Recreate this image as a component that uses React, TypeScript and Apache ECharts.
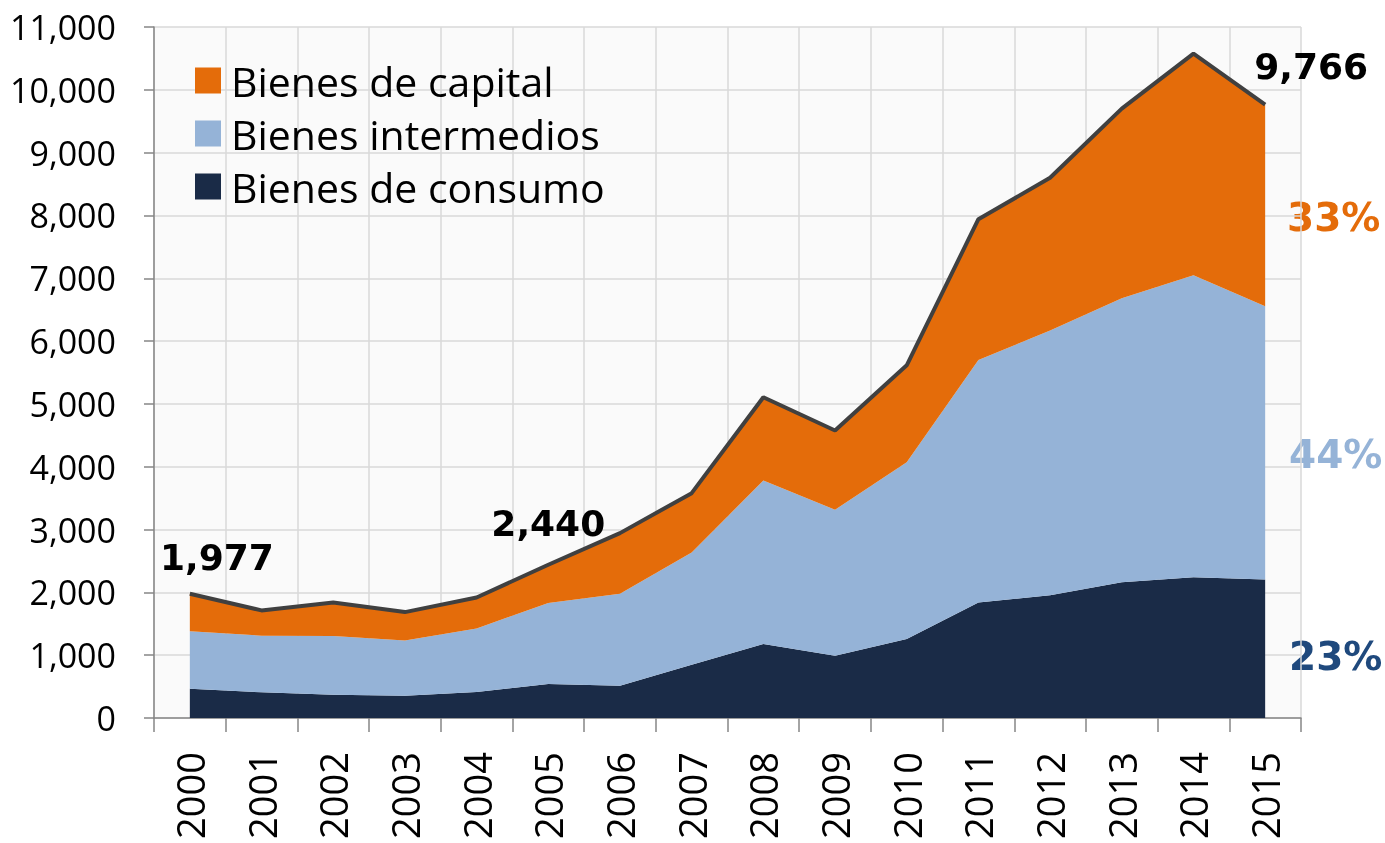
import React, { useEffect, useRef } from "react";
import * as echarts from "echarts";

const years = ["2000","2001","2002","2003","2004","2005","2006","2007","2008","2009","2010","2011","2012","2013","2014","2015"];
const consumo = [467, 408, 371, 355, 414, 541, 514, 848, 1177, 992, 1257, 1840, 1955, 2161, 2239, 2203];
const intermedios = [912, 902, 933, 880, 1012, 1288, 1464, 1787, 2603, 2322, 2813, 3860, 4215, 4520, 4811, 4350];
const capital = [598, 403, 536, 451, 493, 611, 965, 944, 1326, 1262, 1545, 2240, 2430, 3020, 3526, 3213];
const seriesNames = ["Bienes de consumo", "Bienes intermedios", "Bienes de capital"];
const labeledYears = ["2000", "2005", "2015"];
const shareLabels = ["23%", "44%", "33%"];

const COLORS = { consumo: "#1A2B47", intermedios: "#95B3D7", capital: "#E46C0A", total: "#404040" };

export default function App() {
  const ref = useRef<HTMLDivElement>(null);
  useEffect(() => {
    if (!ref.current) return;
    const chart = echarts.init(ref.current, undefined, { renderer: "svg" });
    const totals = years.map((_, i) => consumo[i] + intermedios[i] + capital[i]);
    const labelOffsets: Record<string, number[]> = { "2000": [27, -13], "2005": [0, -18], "2015": [46, -15] };
    const totalData = totals.map((v, i) => {
      const y = years[i];
      if (labeledYears.includes(y)) {
        return { value: v, label: { show: true, position: "top", offset: labelOffsets[y] } };
      }
      return { value: v };
    });
    const areaSeries = (name: string, data: number[], color: string) => ({
      name,
      type: "line",
      stack: "total",
      data,
      symbol: "none",
      lineStyle: { width: 0 },
      itemStyle: { color },
      areaStyle: { color, opacity: 1 },
      z: 2,
    });
    chart.setOption({
      animation: false,
      textStyle: { fontFamily: "Open Sans" },
      grid: {
        left: 154, right: 84, top: 27, bottom: 125,
        show: true, backgroundColor: "#FAFAFA", borderWidth: 0,
      },
      legend: {
        orient: "vertical",
        left: 190, top: 55,
        itemWidth: 26, itemHeight: 26, itemGap: 12,
        icon: "rect",
        data: ["Bienes de capital", "Bienes intermedios", "Bienes de consumo"],
        textStyle: { fontSize: 41, color: "#000", fontFamily: "Open Sans", lineHeight: 40, padding: [0, 0, 0, 5] },
      },
      xAxis: {
        type: "category",
        data: years,
        boundaryGap: true,
        axisLine: { lineStyle: { color: "#868686", width: 1.5 } },
        axisTick: { show: true, length: 14, lineStyle: { color: "#868686", width: 1.5 } },
        axisLabel: { rotate: 90, fontSize: 38, color: "#000", margin: 34, interval: 0, fontFamily: "Open Sans" },
        splitLine: { show: true, lineStyle: { color: "#D9D9D9", width: 1.5 } },
      },
      yAxis: {
        type: "value",
        min: 0, max: 11000, interval: 1000,
        axisLine: { show: true, lineStyle: { color: "#868686", width: 1.5 } },
        axisTick: { show: true, length: 10, lineStyle: { color: "#868686", width: 1.5 } },
        axisLabel: {
          fontSize: 34, color: "#000", margin: 38, fontFamily: "Open Sans",
          formatter: (v: number) => v.toLocaleString("en-US"),
        },
        splitLine: { show: true, lineStyle: { color: "#D9D9D9", width: 1.5 } },
      },
      series: [
        areaSeries(seriesNames[0], consumo, COLORS.consumo),
        areaSeries(seriesNames[1], intermedios, COLORS.intermedios),
        areaSeries(seriesNames[2], capital, COLORS.capital),
        {
          name: "Total",
          type: "line",
          data: totalData,
          symbol: "circle",
          symbolSize: 0.01,
          showSymbol: true,
          lineStyle: { color: COLORS.total, width: 4 },
          itemStyle: { color: COLORS.total },
          z: 5,
          label: {
            show: false,
            fontFamily: "DejaVu Sans",
            fontWeight: "bold",
            fontSize: 36,
            color: "#000",
            formatter: (p: any) => Number(p.value).toLocaleString("en-US"),
          },
        },
      ],
      graphic: [
        { type: "text", left: 1287, top: 198, style: { text: shareLabels[2], fill: COLORS.capital, font: "bold 39px 'DejaVu Sans'" } },
        { type: "text", left: 1289, top: 435, style: { text: shareLabels[1], fill: COLORS.intermedios, font: "bold 39px 'DejaVu Sans'" } },
        { type: "text", left: 1289, top: 637, style: { text: shareLabels[0], fill: "#1F497D", font: "bold 39px 'DejaVu Sans'" } },
      ],
    });
    return () => chart.dispose();
  }, []);
  return <div ref={ref} style={{ position: "fixed", left: 0, top: 0, width: 1385, height: 843 }} />;
}
